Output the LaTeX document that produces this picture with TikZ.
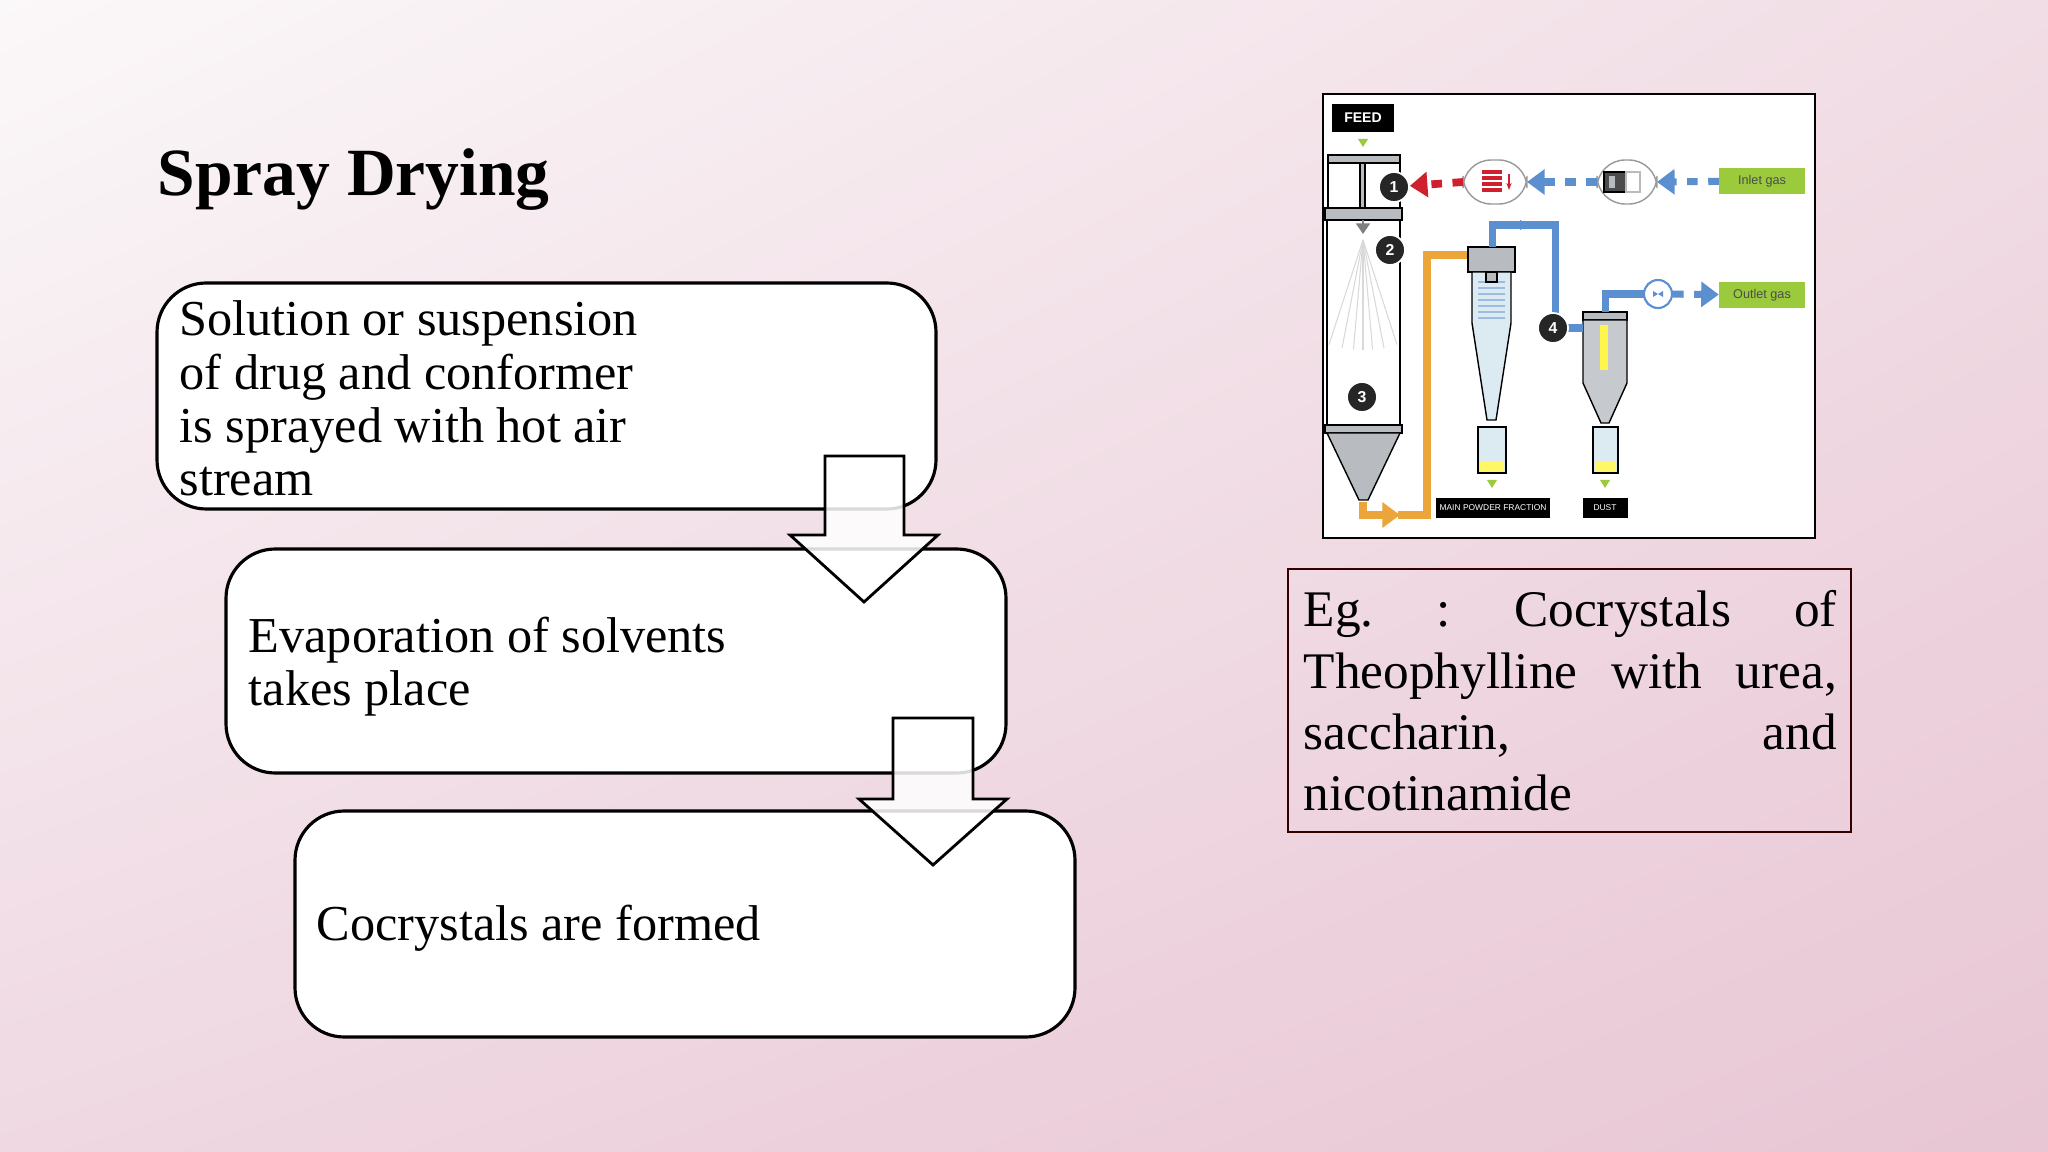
\documentclass[tikz,border=0pt]{standalone}
\usepackage{fontspec}
\setmainfont{Liberation Serif}
\newfontfamily\sansf{Liberation Sans}
\usetikzlibrary{arrows.meta,shadings}
\definecolor{bgA}{HTML}{FBF8F9}
\definecolor{bgB}{HTML}{F1DDE5}
\definecolor{bgC}{HTML}{EFD8E2}
\definecolor{bgD}{HTML}{E8C6D4}
\definecolor{gasgreen}{HTML}{9BCB3C}
\definecolor{pipeblue}{HTML}{5B8FD0}
\definecolor{pipeorange}{HTML}{EBA53A}
\definecolor{heatred}{HTML}{D0202E}
\definecolor{steel}{HTML}{B8BCC0}
\definecolor{glass}{HTML}{DCEAF2}
\tikzset{
  stepbox/.style={draw=black,line width=0.9pt,rounded corners=14pt,fill=white},
  steptext/.style={anchor=north west,align=left,font=\fontsize{14.3}{15.2}\selectfont,inner sep=0pt},
  downarrow/.style={draw=black,line width=0.8pt,fill=white,fill opacity=0.85},
  num/.style={circle,fill=black!85,draw=white,line width=0.5pt,text=white,font=\sansf\bfseries\fontsize{4.5}{5}\selectfont,inner sep=0pt,minimum size=0.3cm},
  gas/.style={fill=gasgreen,text=black!70,font=\sansf\fontsize{3.6}{4}\selectfont,minimum width=0.85cm,minimum height=0.26cm,inner sep=0pt},
  blab/.style={fill=black,text=white,font=\sansf\fontsize{2.4}{3}\selectfont,inner sep=0pt,minimum height=0.2cm},
  bpipe/.style={pipeblue,line width=2pt},
  opipe/.style={pipeorange,line width=2pt}
}
\begin{document}
\begin{tikzpicture}[x=0.01cm,y=-0.01cm]
\shade[upper left=bgA,upper right=bgB,lower left=bgC,lower right=bgD] (0,0) rectangle (2048,1152);
\useasboundingbox (0,0) rectangle (2048,1152);
% title
\node[anchor=base west,inner sep=0pt,font=\bfseries\fontsize{19.2}{22}\selectfont] (title) at (157,196) {Spray Drying};
% boxes
\draw[stepbox] (157,283) rectangle (936,509);
\node[steptext] (t1) at (179,300) {Solution or suspension\\of drug and conformer\\is sprayed with hot air\\stream};
\draw[stepbox] (226,549) rectangle (1006,773);
\node[steptext] (t2) at (248,616) {Evaporation of solvents\\takes place};
\draw[stepbox] (295,811) rectangle (1075,1037);
\node[steptext,anchor=base west] (t3) at (316,940) {Cocrystals are formed};
% arrows
\draw[downarrow] (825,456) -- (904,456) -- (904,535) -- (938,535) -- (864,602) -- (790,535) -- (825,535) -- cycle;
\draw[downarrow] (893,718) -- (973,718) -- (973,799) -- (1007,799) -- (933,865) -- (859,799) -- (893,799) -- cycle;
% Eg box
\draw[line width=0.8pt,draw=black!80!red] (1288,569) rectangle (1851,832);
\node[anchor=north west,inner sep=0pt,text width=5.33cm,align=justify,font=\fontsize{14.6}{17.4}\selectfont] (eg) at (1303,590) {Eg.\hfill:\hfill Cocrystals\hfill of\\Theophylline\hfill with\hfill urea,\\saccharin,\hfill and\\nicotinamide};
% figure
\draw[fill=white,line width=0.8pt] (1323,94) rectangle (1815,538);
\node[blab,minimum width=0.62cm,minimum height=0.27cm,font=\sansf\bfseries\fontsize{4}{4}\selectfont] (feed) at (1363,118) {FEED};
\fill[gasgreen] (1358,139) -- (1368,139) -- (1363,147) -- cycle;
% spray column
\draw[fill=steel] (1328,155) rectangle (1400,163);
\draw[fill=white] (1328,163) rectangle (1400,208);
\draw[fill=steel] (1360,163) rectangle (1365,208);
\draw[fill=steel] (1325,208) rectangle (1402,220);
\draw[fill=white] (1327,220) rectangle (1400,425);
\draw[fill=steel] (1325,425) rectangle (1402,433);
\draw[fill=steel] (1327,433) -- (1400,433) -- (1368,500) -- (1359,500) -- cycle;
\draw[black!50,-{Triangle[length=3pt,width=4pt]}] (1363,220) -- (1363,234);
\foreach \a in {-18,-11,-5,0,5,11,18} {\draw[black!15,line width=0.3pt] (1363,240) -- ++(90+\a:110);}
% orange pipe
\draw[opipe,-{Triangle[length=5pt,width=7pt]}] (1363,502) -- (1363,515) -- (1400,515);
\draw[opipe] (1398,515) -- (1427,515) -- (1427,255) -- (1470,255);
% cyclone
\draw[fill=steel] (1468,247) rectangle (1515,272);
\draw[fill=glass] (1472,272) -- (1511,272) -- (1511,323) -- (1496,420) -- (1487,420) -- (1472,323) -- cycle;
\foreach \yy in {282,288,...,318} {\draw[pipeblue!60,line width=0.4pt] (1478,\yy) -- (1505,\yy);}
\draw[fill=steel] (1486,272) rectangle (1497,282);
\draw[fill=glass] (1478,427) rectangle (1506,473);
\fill[yellow!60] (1480,462) rectangle (1504,472);
\fill[gasgreen] (1487,480) -- (1497,480) -- (1492,488) -- cycle;
\node[blab,minimum width=1.13cm] (mpf) at (1493,508) {MAIN POWDER FRACTION};
% filter
\draw[fill=steel] (1583,312) rectangle (1627,320);
\draw[fill=steel!80] (1583,320) -- (1627,320) -- (1627,383) -- (1609,423) -- (1601,423) -- (1583,383) -- cycle;
\fill[yellow!70] (1600,325) rectangle (1608,370);
\draw[fill=glass] (1593,427) rectangle (1618,473);
\fill[yellow!60] (1595,462) rectangle (1616,472);
\fill[gasgreen] (1600,480) -- (1610,480) -- (1605,488) -- cycle;
\node[blab,minimum width=0.45cm] (dust) at (1605,508) {DUST};
% blue pipes
\draw[bpipe] (1492,247) -- (1492,225) -- (1555,225) -- (1555,328) -- (1583,328);
\fill[pipeblue] (1520,220) -- (1530,225) -- (1520,230) -- cycle;
\node[num] (n4) at (1553,328) {4};
\draw[bpipe] (1605,312) -- (1605,294) -- (1645,294);
\node[circle,draw=pipeblue,fill=white,line width=0.6pt,minimum size=0.28cm,inner sep=0pt] (fan) at (1658,294) {};
\fill[pipeblue] (fan.center) -- ++(-5,-3) -- ++(0,6) -- cycle;
\fill[pipeblue] (fan.center) -- ++(5,-3) -- ++(0,6) -- cycle;
\node[gas] (outlet) at (1762,295) {Outlet gas};
\draw[bpipe,dashed,-{Triangle[length=5pt,width=7pt]}] (fan) -- (outlet);
% heater and filter ovals
\draw[black!40,rounded corners=8pt] (1463,160) rectangle (1527,204);
\foreach \yy in {172,178,184,190} {\draw[heatred,line width=1.4pt] (1482,\yy) -- (1502,\yy);}
\draw[heatred,line width=0.6pt,-{Stealth[length=2pt]}] (1509,174) -- (1509,190);
\draw[black!40,rounded corners=8pt] (1597,160) rectangle (1657,204);
\draw[fill=black!70] (1604,172) rectangle (1626,192);
\fill[steel] (1609,176) rectangle (1615,188);
\draw[steel] (1626,172) rectangle (1640,192);
\node[gas] (inlet) at (1762,181) {Inlet gas};
\draw[bpipe,dashed,-{Triangle[length=5pt,width=7pt]}] (inlet) -- (1657,182);
\draw[bpipe,dashed,-{Triangle[length=5pt,width=7pt]}] (1597,182) -- (1527,182);
\node[num] (n1) at (1394,187) {1};
\draw[heatred,line width=2.2pt,dashed,-{Triangle[length=5pt,width=7pt]}] (1463,182) -- (n1);
\node[num] (n2) at (1390,250) {2};
\node[num] (n3) at (1362,397) {3};
\end{tikzpicture}
\end{document}
